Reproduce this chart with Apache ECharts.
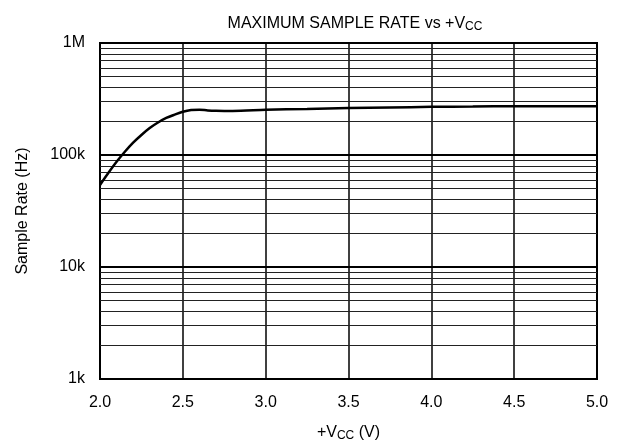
<!DOCTYPE html>
<html>
<head>
<meta charset="utf-8">
<script src="https://cdn.jsdelivr.net/npm/echarts@6/dist/echarts.min.js"></script>
<style>
  html, body { margin: 0; padding: 0; background: #fff; }
  #chart { width: 628px; height: 447px; }
</style>
</head>
<body>
<div id="chart"></div>
<script>
// supply voltage (V) and max sample rate (Hz)
const vcc = [2.0, 2.05, 2.1, 2.15, 2.2, 2.25, 2.3, 2.35, 2.4, 2.45, 2.5, 2.55, 2.6, 2.65, 2.7, 2.8,
  3.0, 3.25, 3.5, 3.75, 4.0, 4.25, 4.5, 4.75, 5.0]
const rate = [54000, 69000, 87000, 107000, 129000, 151000, 174000, 195000, 214000, 229000, 243000, 252000, 254000, 250000, 248000, 247000,
  253000, 258000, 263000, 266000, 269000, 271000, 273000, 273000, 272000]

const xTicks = ['2.0', '2.5', '3.0', '3.5', '4.0', '4.5', '5.0']
const decades = [1000, 10000, 100000]
const decadeLabels = { 1000: '1k', 10000: '10k', 100000: '100k', 1000000: '1M' }
const minorSteps = [2, 3, 4, 5, 6, 7, 8, 9]

const font = 'Liberation Sans, Arial, sans-serif'
const subStyle = { fontFamily: font, fontSize: 12, color: '#000', verticalAlign: 'bottom', padding: [7, 0, 0, 0] }

// minor log gridlines at 2..9 of each decade
const minorLines = []
decades.forEach(d => {
  minorSteps.forEach(m => minorLines.push({ yAxis: d * m }))
})

const chart = echarts.init(document.getElementById('chart'))

const option = {
  animation: false,
  title: {
    text: 'MAXIMUM SAMPLE RATE vs +V{sub|CC}',
    left: 350,
    top: 9,
    textAlign: 'center',
    textStyle: {
      fontFamily: font,
      fontSize: 16,
      fontWeight: 'normal',
      color: '#000',
      rich: { sub: subStyle }
    }
  },
  grid: {
    left: 100,
    right: 31,
    top: 43,
    bottom: 68,
    show: true,
    borderColor: '#000',
    borderWidth: 2
  },
  xAxis: {
    type: 'value',
    min: 2,
    max: 5,
    interval: 0.5,
    name: '+V{sub|CC} (V)',
    nameLocation: 'middle',
    nameGap: 44,
    nameTextStyle: {
      fontFamily: font,
      fontSize: 16,
      color: '#000',
      rich: { sub: subStyle }
    },
    axisLine: { lineStyle: { color: '#000', width: 2 } },
    axisTick: { show: false },
    axisLabel: {
      margin: 16,
      fontFamily: font,
      fontSize: 16,
      color: '#000',
      formatter: v => xTicks[Math.round((v - 2) / 0.5)]
    },
    splitLine: { show: true, lineStyle: { color: '#000', width: 1.5 } }
  },
  yAxis: {
    type: 'log',
    logBase: 10,
    min: 1000,
    max: 1000000,
    name: 'Sample Rate (Hz)',
    nameLocation: 'middle',
    nameGap: 69,
    nameRotate: 90,
    nameTextStyle: { fontFamily: font, fontSize: 16, color: '#000' },
    axisLine: { lineStyle: { color: '#000', width: 2 } },
    axisTick: { show: false },
    axisLabel: {
      margin: 15,
      fontFamily: font,
      fontSize: 16,
      color: '#000',
      formatter: v => decadeLabels[Math.round(v)] || ''
    },
    splitLine: { show: true, lineStyle: { color: '#000', width: 2 } }
  },
  series: [
    {
      type: 'line',
      data: vcc.map((v, i) => [v, rate[i]]),
      smooth: 0.3,
      showSymbol: false,
      lineStyle: { color: '#000', width: 2.5 },
      z: 5,
      markLine: {
        silent: true,
        symbol: 'none',
        label: { show: false },
        lineStyle: { color: '#222', width: 1, type: 'solid' },
        data: minorLines,
        z: 1
      }
    }
  ]
}

chart.setOption(option)
</script>
</body>
</html>
